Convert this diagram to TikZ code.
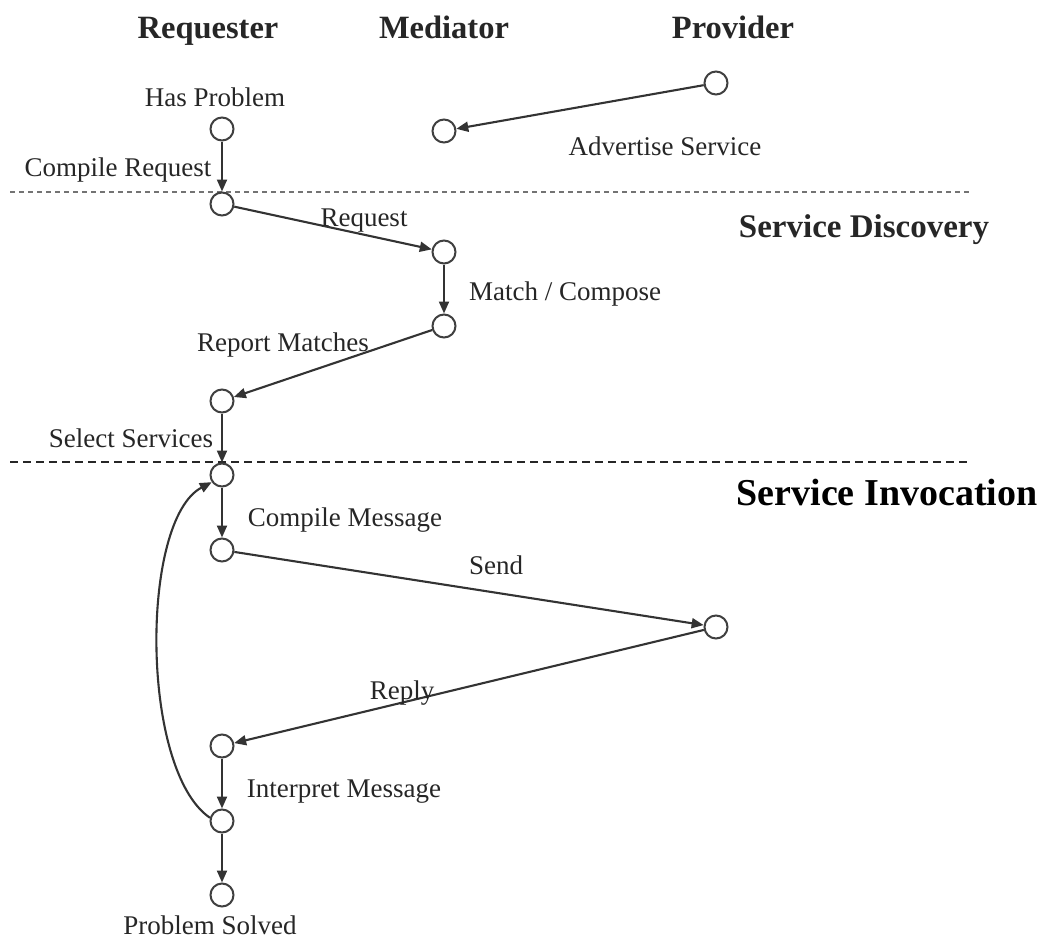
\documentclass[tikz,border=0pt]{standalone}
\usepackage{fontspec}
\setmainfont{Liberation Serif}
\usetikzlibrary{arrows.meta}
\begin{document}
\begin{tikzpicture}[x=1pt,y=-1pt,
  st/.style={circle,draw=black!75,line width=2pt,minimum size=23pt,inner sep=0pt,fill=white},
  arr/.style={line width=2.1pt,draw=black!80,-{Triangle[length=12pt,width=10pt]}},
  lbl/.style={font=\fontsize{27}{30}\selectfont,inner sep=0pt,text=black!85,anchor=base},
  ttl/.style={font=\fontsize{32.5}{36}\selectfont\bfseries,inner sep=0pt,text=black!85,anchor=base},
  phase/.style={font=\fontsize{33}{36}\selectfont\bfseries,inner sep=0pt,text=black!85,anchor=base},
  phaseb/.style={font=\fontsize{38}{40}\selectfont\bfseries,inner sep=0pt,text=black,anchor=base}]
\useasboundingbox (0,0) rectangle (1043,950);
% titles
\node[ttl] (treq) at (208,39) {Requester};
\node[ttl] (tmed) at (444,39) {Mediator};
\node[ttl] (tpro) at (733,39) {Provider};
% separators
\coordinate (d1a) at (10,192); \coordinate (d1b) at (970,192);
\coordinate (d2a) at (10,462); \coordinate (d2b) at (970,462);
\draw[black!55,line width=2pt,dash pattern=on 5pt off 4pt] (d1a) -- (d1b);
\draw[black!85,line width=2pt,dash pattern=on 8pt off 5pt] (d2a) -- (d2b);
\node[phase] (psd) at (864,237) {Service Discovery};
\node[phaseb] (psi) at (887,505) {Service Invocation};
% states
\node[st] (pv) at (716,83) {};
\node[st] (md) at (444,131) {};
\node[st] (hp) at (222,129) {};
\node[st] (cr) at (222,204) {};
\node[st] (rq) at (444,252) {};
\node[st] (mc) at (444,326) {};
\node[st] (rm) at (222,401) {};
\node[st] (ss) at (222,475) {};
\node[st] (cm) at (222,550) {};
\node[st] (sd) at (716,627) {};
\node[st] (rp) at (222,746) {};
\node[st] (im) at (222,821) {};
\node[st] (ps) at (222,895) {};
% connectors
\draw[arr] (pv) -- (md);
\draw[arr] (hp) -- (cr);
\draw[arr] (cr) -- (rq);
\draw[arr] (rq) -- (mc);
\draw[arr] (mc) -- (rm);
\draw[arr] (rm) -- (ss);
\draw[arr] (ss) -- (cm);
\draw[arr] (cm) -- (sd);
\draw[arr] (sd) -- (rp);
\draw[arr] (rp) -- (im);
\draw[arr] (im) -- (ps);
\draw[arr] (im.165) .. controls (140,770) and (140,520) .. (ss.215);
% labels
\node[lbl] (lhp) at (215,106) {Has Problem};
\node[lbl] (lcr) at (118,176) {Compile Request};
\node[lbl] (las) at (665,155) {Advertise Service};
\node[lbl] (lrq) at (364,226) {Request};
\node[lbl] (lmc) at (565,300) {Match / Compose};
\node[lbl] (lrm) at (283,351) {Report Matches};
\node[lbl] (lss) at (131,447) {Select Services};
\node[lbl] (lcm) at (345,526) {Compile Message};
\node[lbl] (lsd) at (496,574) {Send};
\node[lbl] (lrp) at (402,699) {Reply};
\node[lbl] (lim) at (344,797) {Interpret Message};
\node[lbl] (lps) at (210,934) {Problem Solved};
\end{tikzpicture}
\end{document}
